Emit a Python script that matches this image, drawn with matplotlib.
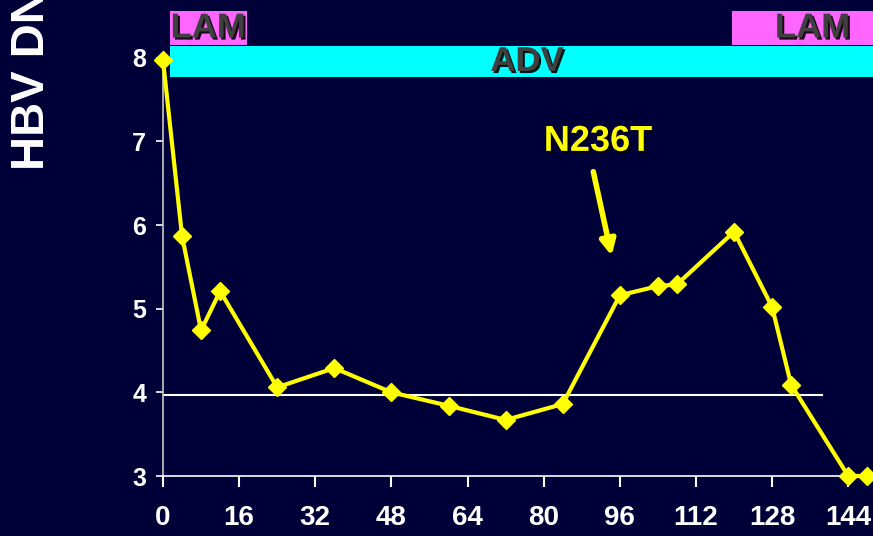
import matplotlib
matplotlib.use("Agg")
import matplotlib.pyplot as plt
import matplotlib.patheffects as pe
from matplotlib.patches import Rectangle

# weeks on treatment and HBV DNA (log10)
weeks = [0, 4, 8, 12, 24, 36, 48, 60, 72, 84, 96, 104, 108, 120, 128, 132, 144, 148]
hbv_dna = [7.97, 5.87, 4.74, 5.21, 4.06, 4.29, 4.00, 3.84, 3.67, 3.86,
           5.16, 5.27, 5.29, 5.92, 5.02, 4.09, 3.0, 3.0]

x_ticks = [0, 16, 32, 48, 64, 80, 96, 112, 128, 144]
y_ticks = [3, 4, 5, 6, 7, 8]
threshold = 3.97

# treatment bars (start, end) in weeks
lam_periods = [(1.5, 17.6), (119.5, 155)]
adv_period = (1.5, 155)

bg = "#000038"
plt.rcParams['font.family'] = ['Liberation Sans', 'DejaVu Sans']
plt.rcParams['font.weight'] = 'bold'

fig = plt.figure(figsize=(8.73, 5.36), dpi=100, facecolor=bg)
ax = fig.add_axes([163 / 873, 60 / 536, 1 - 163 / 873, 1 - 60 / 536])
ax.set_facecolor(bg)
ax.set_xlim(0, 149.2)
ax.set_ylim(3, 8.69)

shadow = [pe.SimplePatchShadow(offset=(1.5, -1.5), shadow_rgbFace='black', alpha=0.9), pe.Normal()]

# ADV bar
ax.add_patch(Rectangle((adv_period[0], 7.77), adv_period[1] - adv_period[0], 0.37,
                       facecolor='#00FFFF', edgecolor='none', clip_on=False))
ax.text(76.5, 7.955, "ADV", color='#404040', fontsize=25, fontweight='bold',
        ha='center', va='center', path_effects=shadow)

# LAM bars
for (s, e), tx in zip(lam_periods, [9.5, 136.5]):
    ax.add_patch(Rectangle((s, 8.155), e - s, 0.405, facecolor='#FF66FF',
                           edgecolor='none', clip_on=False))
    ax.text(tx, 8.355, "LAM", color='#404040', fontsize=25, fontweight='bold',
            ha='center', va='center', path_effects=shadow)

ax.plot([0, 138.4], [threshold, threshold], color='white', lw=1.5)

ax.plot(weeks, hbv_dna, color='#FFFF00', lw=3, marker='D', markersize=9,
        markeredgecolor='#FFFF00', clip_on=False, zorder=5)

ax.annotate("", xy=(94.4, 5.6), xytext=(90.3, 6.67),
            arrowprops=dict(arrowstyle='-|>,head_length=0.9,head_width=0.45',
                            color='#FFFF00', lw=4))
ax.text(91.4, 7.0, "N236T", color='#FFFF00', fontsize=26, fontweight='bold',
        ha='center', va='center', path_effects=shadow)

for s in ['top', 'right']:
    ax.spines[s].set_visible(False)
ax.spines['left'].set_color('#c8c8c8')
ax.spines['left'].set_bounds(3, 8)
ax.spines['bottom'].set_color('white')
ax.spines['left'].set_linewidth(1.2)
ax.spines['bottom'].set_linewidth(1.2)

ax.set_xticks(x_ticks)
ax.set_yticks(y_ticks)
ax.tick_params(axis='x', colors='white', length=8, width=1.5, pad=13, labelsize=20)
ax.tick_params(axis='y', colors='white', length=5, width=1.2, pad=7, labelsize=18)

fig.text(32 / 873, 1 - 170 / 536, "HBV DNA (log copies/ml)", color='white',
         fontsize=34, fontweight='bold', rotation=90, ha='center', va='bottom')

fig.savefig("out.png", dpi=100, facecolor=bg)
